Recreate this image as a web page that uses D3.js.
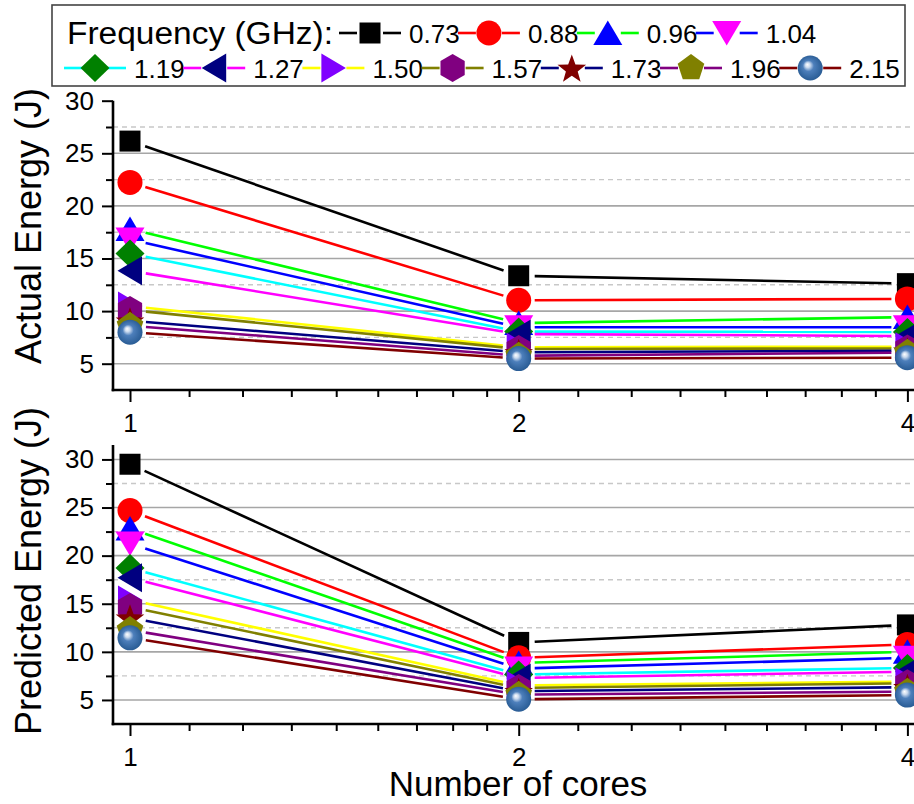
<!DOCTYPE html>
<html>
<head>
<meta charset="utf-8">
<script src="https://cdn.jsdelivr.net/npm/d3@7"></script>
<style>
  body { margin: 0; background: #fff; }
  svg { display: block; font-family: "Liberation Sans", Arial, sans-serif; }
</style>
</head>
<body>
<div id="chart"></div>
<script>
// data
var cores = [1, 2, 4];
var freqLabels = ["0.73", "0.88", "0.96", "1.04", "1.19", "1.27", "1.50", "1.57", "1.73", "1.96", "2.15"];
var actualAt1 = [26.16, 22.23, 17.8, 16.8, 15.47, 13.83, 10.48, 10.10, 9.09, 8.61, 7.99];
var actualAt2 = [13.36, 11.03, 8.86, 8.47, 8.05, 7.82, 6.56, 6.40, 6.08, 5.76, 5.49];
var actualAt4 = [12.61, 11.16, 9.43, 8.47, 8.02, 7.63, 6.62, 6.45, 6.24, 6.05, 5.57];
var predictedAt1 = [29.5, 24.68, 22.82, 21.25, 18.72, 17.71, 15.40, 14.66, 13.55, 12.27, 11.46];
var predictedAt2 = [10.98, 9.38, 8.84, 8.26, 7.65, 7.28, 6.51, 6.24, 5.91, 5.55, 5.07];
var predictedAt4 = [12.8, 10.77, 10.0, 9.38, 8.33, 7.94, 6.90, 6.73, 6.32, 5.86, 5.51];
var yTicks = [5, 10, 15, 20, 25, 30];

// styles
var lineColors = ["#000000", "#ff0000", "#00ff00", "#0000ff", "#00ffff", "#ff00ff", "#ffff00", "#808000", "#000080", "#800080", "#800000"];
var markerColors = ["#000000", "#ff0000", "#0000ff", "#ff00ff", "#008000", "#000080", "#8000ff", "#800080", "#800000", "#808000", "url(#sphere)"];
var markerShapes = ["square", "circle", "triUp", "triDown", "diamond", "triLeft", "triRight", "hexagon", "star", "pentagon", "circle"];

var svgWidth = 914;
var svgHeight = 804;

var svg = d3.select("#chart")
  .append("svg")
  .attr("width", svgWidth)
  .attr("height", svgHeight);

// sphere gradient for the last series
var grad = svg.append("defs").append("radialGradient")
  .attr("id", "sphere")
  .attr("cx", "0.5").attr("cy", "0.5").attr("r", "0.55")
  .attr("fx", "0.38").attr("fy", "0.36");
grad.append("stop").attr("offset", "0").attr("stop-color", "#ffffff");
grad.append("stop").attr("offset", "0.18").attr("stop-color", "#c9d9ee");
grad.append("stop").attr("offset", "0.4").attr("stop-color", "#4d7fbb");
grad.append("stop").attr("offset", "1").attr("stop-color", "#24578f");

function poly(pts) {
  return "M" + pts.map(p => p[0].toFixed(2) + "," + p[1].toFixed(2)).join("L") + "Z";
}
function regular(n, r, start) {
  var pts = [];
  for (var i = 0; i < n; i++) {
    var a = start + i * 2 * Math.PI / n;
    pts.push([r * Math.cos(a), r * Math.sin(a)]);
  }
  return pts;
}
function markerPath(shape) {
  if (shape === "square") return poly([[-10.5, -10.5], [10.5, -10.5], [10.5, 10.5], [-10.5, 10.5]]);
  if (shape === "circle") return d3.arc()({innerRadius: 0, outerRadius: 12.5, startAngle: 0, endAngle: 2 * Math.PI});
  if (shape === "triUp") return poly([[0, -12.5], [14.5, 12], [-14.5, 12]]);
  if (shape === "triDown") return poly([[0, 12.5], [14.5, -12], [-14.5, -12]]);
  if (shape === "diamond") return poly([[0, -14], [14.5, 0], [0, 14], [-14.5, 0]]);
  if (shape === "triLeft") return poly([[-12.5, 0], [12, -14.5], [12, 14.5]]);
  if (shape === "triRight") return poly([[12.5, 0], [-12, -14.5], [-12, 14.5]]);
  if (shape === "hexagon") return poly(regular(6, 14, -Math.PI / 2));
  if (shape === "pentagon") return poly(regular(5, 14, -Math.PI / 2));
  if (shape === "star") {
    var pts = [];
    for (var i = 0; i < 10; i++) {
      var r = i % 2 === 0 ? 15 : 6.2;
      var a = -Math.PI / 2 + i * Math.PI / 5;
      pts.push([r * Math.cos(a), r * Math.sin(a) + 1.5]);
    }
    return poly(pts);
  }
}

// x scale (log 2), shared by both panels
var xScale = d3.scaleLog().base(2)
  .domain([1, 4])
  .range([130, 907.4]);
var minorX = [];
[1, 2].forEach(function(b) {
  for (var k = 1; k <= 8; k++) minorX.push(b + k * b / 9);
});
minorX.push(4 + 4 / 9);

var axisLeftX = 113;

function drawPanel(cfg) {
  var y = d3.scaleLinear().domain(cfg.domain).range([cfg.bottom, cfg.top]);
  var g = svg.append("g");

  // grid lines
  var majors = yTicks.filter(v => cfg.gridMajor.indexOf(v) >= 0);
  g.selectAll(".gmaj").data(majors).enter().append("line")
    .attr("x1", axisLeftX).attr("x2", svgWidth)
    .attr("y1", d => y(d)).attr("y2", d => y(d))
    .attr("stroke", "#a6a6a6").attr("stroke-width", 1.6);
  var minors = d3.range(7.5, cfg.domain[1], 5);
  g.selectAll(".gmin").data(minors).enter().append("line")
    .attr("x1", axisLeftX).attr("x2", svgWidth)
    .attr("y1", d => y(d)).attr("y2", d => y(d))
    .attr("stroke", "#c8c8c8").attr("stroke-width", 1.4)
    .attr("stroke-dasharray", "5,4");

  // y axis
  var yAxis = d3.axisLeft(y).tickValues(yTicks).tickSize(11).tickPadding(8).tickFormat(d3.format("d"));
  var ya = g.append("g").attr("transform", `translate(${axisLeftX},0)`).call(yAxis);
  var yMinor = d3.axisLeft(y).tickValues(minors).tickSize(7).tickFormat("");
  var ym = g.append("g").attr("transform", `translate(${axisLeftX},0)`).call(yMinor);
  [ya, ym].forEach(function(a) {
    a.select(".domain").remove();
    a.selectAll("line").attr("stroke", "#000").attr("stroke-width", 2);
  });
  ya.selectAll("text").style("font-size", "26px").attr("fill", "#000");

  // x axis
  var xAxis = d3.axisBottom(xScale).tickValues(cores).tickSize(12).tickPadding(12).tickFormat(d3.format("d"));
  var xa = g.append("g").attr("transform", `translate(0,${cfg.bottom})`).call(xAxis);
  var xMinor = d3.axisBottom(xScale).tickValues(minorX).tickSize(7).tickFormat("");
  var xm = g.append("g").attr("transform", `translate(0,${cfg.bottom})`).call(xMinor);
  [xa, xm].forEach(function(a) {
    a.select(".domain").remove();
    a.selectAll("line").attr("stroke", "#000").attr("stroke-width", 2);
  });
  xa.selectAll("text").style("font-size", "26px").attr("fill", "#000");

  g.append("line")
    .attr("x1", axisLeftX).attr("x2", axisLeftX)
    .attr("y1", cfg.top).attr("y2", cfg.bottom + 1.2)
    .attr("stroke", "#000").attr("stroke-width", 2.6);
  g.append("line")
    .attr("x1", axisLeftX - 1.3).attr("x2", svgWidth)
    .attr("y1", cfg.bottom).attr("y2", cfg.bottom)
    .attr("stroke", "#000").attr("stroke-width", 2.6);

  // y title
  g.append("text")
    .attr("transform", `translate(41, ${cfg.titleY}) rotate(-90)`)
    .attr("text-anchor", "middle")
    .style("font-size", "36px")
    .text(cfg.title);

  // series
  freqLabels.forEach(function(f, i) {
    var pts = cores.map((c, j) => [xScale(c), y(cfg.values[j][i])]);
    var gap = 16;
    for (var j = 0; j < pts.length - 1; j++) {
      var a = pts[j], b = pts[j + 1];
      var dx = b[0] - a[0], dy = b[1] - a[1];
      var len = Math.sqrt(dx * dx + dy * dy);
      var ux = dx / len, uy = dy / len;
      g.append("line")
        .attr("x1", a[0] + ux * gap).attr("y1", a[1] + uy * gap)
        .attr("x2", b[0] - ux * gap).attr("y2", b[1] - uy * gap)
        .attr("stroke", lineColors[i]).attr("stroke-width", 2.6);
    }
    g.selectAll(null).data(pts).enter().append("path")
      .attr("transform", d => `translate(${d[0]},${d[1]})`)
      .attr("d", markerPath(markerShapes[i]))
      .attr("fill", markerColors[i]);
  });
}

drawPanel({
  domain: [2.5, 30], top: 100.7, bottom: 390,
  gridMajor: [5, 10, 15, 20, 25],
  title: "Actual Energy (J)", titleY: 226,
  values: [actualAt1, actualAt2, actualAt4]
});
drawPanel({
  domain: [2.5, 31.5], top: 445, bottom: 724,
  gridMajor: [5, 10, 15, 20, 25, 30],
  title: "Predicted Energy (J)", titleY: 571,
  values: [predictedAt1, predictedAt2, predictedAt4]
});

svg.append("text")
  .attr("x", 518).attr("y", 796)
  .attr("text-anchor", "middle")
  .style("font-size", "35px")
  .text("Number of cores");

// legend
var legend = svg.append("g");
legend.append("rect")
  .attr("x", 52).attr("y", 5).attr("width", 853).attr("height", 81)
  .attr("fill", "#fff").attr("stroke", "#444").attr("stroke-width", 1.6);
legend.append("text")
  .attr("x", 67).attr("y", 44)
  .attr("textLength", 266)
  .attr("lengthAdjust", "spacingAndGlyphs")
  .style("font-size", "31px")
  .text("Frequency (GHz):");

var legendPos = freqLabels.map(function(f, i) {
  if (i < 4) return [370 + i * 118.9, 33];
  return [95 + (i - 4) * 119.2, 68];
});
freqLabels.forEach(function(f, i) {
  var p = legendPos[i];
  var item = legend.append("g").attr("transform", `translate(${p[0]},${p[1]})`);
  item.append("line").attr("x1", -31).attr("x2", -13).attr("y1", 0).attr("y2", 0)
    .attr("stroke", lineColors[i]).attr("stroke-width", 2.6);
  item.append("line").attr("x1", 13).attr("x2", 31).attr("y1", 0).attr("y2", 0)
    .attr("stroke", lineColors[i]).attr("stroke-width", 2.6);
  item.append("path").attr("d", markerPath(markerShapes[i])).attr("fill", markerColors[i]);
  item.append("text").attr("x", 39).attr("y", 10)
    .style("font-size", "26px")
    .text(f);
});
</script>
</body>
</html>
